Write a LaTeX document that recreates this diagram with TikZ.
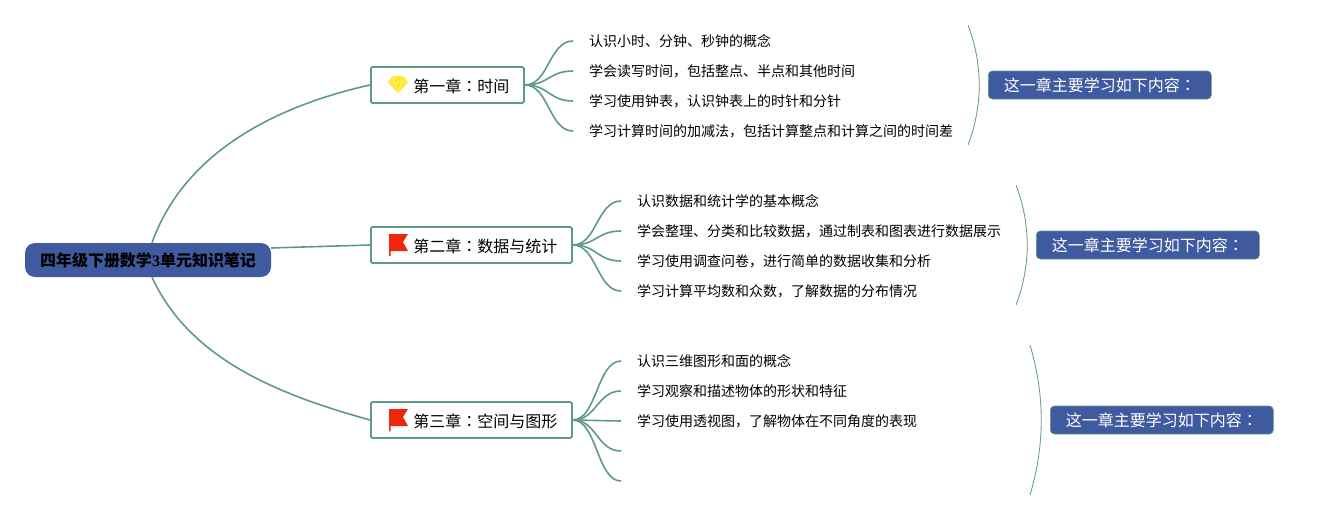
\documentclass[tikz,border=0pt]{standalone}
\usepackage{fontspec}
\setmainfont{Noto Sans CJK SC}
\newfontfamily\colonfont{Noto Sans CJK TC}
\newfontfamily\digitfont{Liberation Serif}
\definecolor{branchgreen}{HTML}{5F9A85}
\definecolor{rootblue}{HTML}{3F5A9E}
\definecolor{flagred}{HTML}{F0260C}
\newcommand{\chapcolon}{{\colonfont ：}}
\tikzset{
  rootbox/.style={draw=none, fill=rootblue, rounded corners=10pt, minimum width=246pt, minimum height=34pt, inner sep=0pt, text height=12.5pt, text depth=0pt, font=\bfseries\fontsize{16}{18}\selectfont},
  chapterbox/.style={draw=branchgreen, fill=white, line width=1.8pt, rounded corners=1.5pt, anchor=west, minimum height=36pt, inner xsep=14.5pt, inner ysep=0pt, text height=14pt, text depth=0pt, font=\fontsize{16}{20}\selectfont},
  leaftext/.style={anchor=west, inner xsep=16pt, inner ysep=0pt, text height=11pt, text depth=0pt, font=\fontsize{14}{18}\selectfont},
  sumbox/.style={draw=branchgreen, line width=.6pt, fill=rootblue, text=white, rounded corners=4pt, anchor=west, minimum width=223pt, minimum height=28pt, inner sep=0pt, text height=12pt, text depth=0pt, font=\fontsize{16}{20}\selectfont},
  branch/.style={draw=branchgreen, line width=1.6pt},
  twig/.style={draw=branchgreen, line width=1.6pt},
  arcline/.style={draw=branchgreen, line width=.8pt},
  flagicon/.pic={
    \fill[flagred] (-9,-11) -- (10,-11) -- (5,-3) -- (10,6) -- (-7.5,6) -- (-7.5,11) -- (-9,11) -- cycle;
  },
  gemicon/.pic={
    \fill[yellow!85!orange!80] (-5,-9) -- (5,-9) -- (10,-3) -- (0,8.5) -- (-10,-3) -- cycle;
    \draw[white!50!yellow, line width=.6pt] (-10,-3) -- (10,-3) (-5,-9) -- (-3.5,-3) -- (0,8.5) -- (3.5,-3) -- (5,-9);
  },
}
\begin{document}
\begin{tikzpicture}[x=1pt, y=-1pt]
  \useasboundingbox (0,0) rectangle (1318,520);
  % root
  \node[rootbox] (root) at (148,260){四年级下册数学{\digitfont 3}单元知识笔记};
  % chapter boxes
  \node[chapterbox] (chapA) at (370,85){\hspace*{28pt}第一章\chapcolon 时间};
  \node[chapterbox] (chapB) at (370,245){\hspace*{28pt}第二章\chapcolon 数据与统计};
  \node[chapterbox] (chapC) at (370,420){\hspace*{28pt}第三章\chapcolon 空间与图形};
  \pic at (398,85){gemicon};
  \pic at (398,245){flagicon};
  \pic at (398,420){flagicon};
  % root to chapters
  \draw[branch] ([xshift=4pt]root.north) .. controls (185,150) and (280,105) .. (chapA.west);
  \draw[branch] ([yshift=12pt]root.east) .. controls (300,247) and (340,246) .. (chapB.west);
  \draw[branch] ([xshift=4pt]root.south) .. controls (190,360) and (280,395) .. (chapC.west);
  % chapter one
  \node[leaftext] (leafAa) at (573,41){认识小时、分钟、秒钟的概念};
  \node[leaftext] (leafAb) at (573,71){学会读写时间，包括整点、半点和其他时间};
  \node[leaftext] (leafAc) at (573,101){学习使用钟表，认识钟表上的时针和分针};
  \node[leaftext] (leafAd) at (573,131){学习计算时间的加减法，包括计算整点和计算之间的时间差};
  \draw[twig] (chapA.east) .. controls +(24,0) and +(-24,0) .. (leafAa.west);
  \draw[twig] (chapA.east) .. controls +(24,0) and +(-24,0) .. (leafAb.west);
  \draw[twig] (chapA.east) .. controls +(24,0) and +(-24,0) .. (leafAc.west);
  \draw[twig] (chapA.east) .. controls +(24,0) and +(-24,0) .. (leafAd.west);
  % chapter two
  \node[leaftext] (leafBa) at (621,201){认识数据和统计学的基本概念};
  \node[leaftext] (leafBb) at (621,231){学会整理、分类和比较数据，通过制表和图表进行数据展示};
  \node[leaftext] (leafBc) at (621,261){学习使用调查问卷，进行简单的数据收集和分析};
  \node[leaftext] (leafBd) at (621,291){学习计算平均数和众数，了解数据的分布情况};
  \draw[twig] (chapB.east) .. controls +(24,0) and +(-24,0) .. (leafBa.west);
  \draw[twig] (chapB.east) .. controls +(24,0) and +(-24,0) .. (leafBb.west);
  \draw[twig] (chapB.east) .. controls +(24,0) and +(-24,0) .. (leafBc.west);
  \draw[twig] (chapB.east) .. controls +(24,0) and +(-24,0) .. (leafBd.west);
  % chapter three, the last two twigs stay empty
  \node[leaftext] (leafCa) at (621,361){认识三维图形和面的概念};
  \node[leaftext] (leafCb) at (621,391){学习观察和描述物体的形状和特征};
  \node[leaftext] (leafCc) at (621,421){学习使用透视图，了解物体在不同角度的表现};
  \coordinate (leafCd) at (621,451);
  \coordinate (leafCe) at (621,481);
  \draw[twig] (chapC.east) .. controls +(24,0) and +(-24,0) .. (leafCa.west);
  \draw[twig] (chapC.east) .. controls +(24,0) and +(-24,0) .. (leafCb.west);
  \draw[twig] (chapC.east) .. controls +(24,0) and +(-24,0) .. (leafCc.west);
  \draw[twig] (chapC.east) .. controls +(24,0) and +(-24,0) .. (leafCd);
  \draw[twig] (chapC.east) .. controls +(24,0) and +(-24,0) .. (leafCe);
  % summary arcs
  \coordinate (arcAt) at (968,25);
  \coordinate (arcAb) at (968,145);
  \coordinate (arcBt) at (1016,185);
  \coordinate (arcBb) at (1016,305);
  \coordinate (arcCt) at (1030,345);
  \coordinate (arcCb) at (1030,495);
  \draw[arcline] (arcAt) .. controls +(15,40) and +(15,-40) .. (arcAb);
  \draw[arcline] (arcBt) .. controls +(15,40) and +(15,-40) .. (arcBb);
  \draw[arcline] (arcCt) .. controls +(15,50) and +(15,-50) .. (arcCb);
  % summary boxes
  \node[sumbox] (sumA) at (988,85){这一章主要学习如下内容\chapcolon};
  \node[sumbox] (sumB) at (1036,245){这一章主要学习如下内容\chapcolon};
  \node[sumbox] (sumC) at (1050,420){这一章主要学习如下内容\chapcolon};
\end{tikzpicture}
\end{document}
